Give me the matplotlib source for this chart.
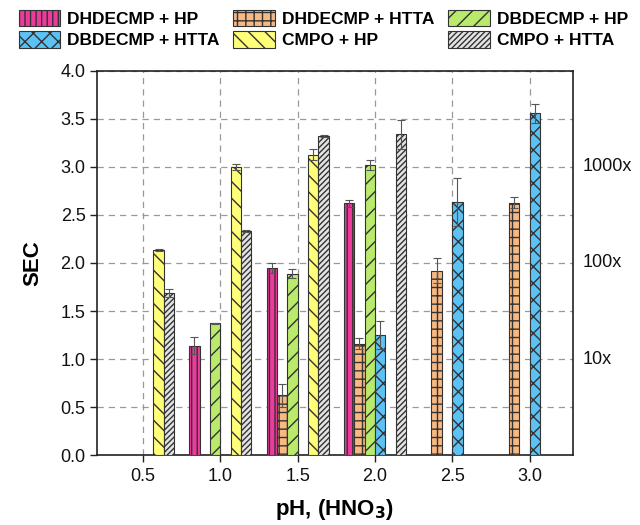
import matplotlib
matplotlib.use("Agg")
import matplotlib.pyplot as plt
import numpy as np

plt.rcParams['font.family'] = ['Liberation Sans', 'DejaVu Sans']
plt.rcParams['hatch.linewidth'] = 1.0
plt.rcParams['hatch.color'] = '#222222'

ph = [0.5, 1.0, 1.5, 2.0, 2.5, 3.0]
series_names = ["DHDECMP + HP", "DHDECMP + HTTA", "DBDECMP + HP",
                "DBDECMP + HTTA", "CMPO + HP", "CMPO + HTTA"]
nan = np.nan
dhdecmp_hp = [nan, 1.14, 1.95, 2.62, nan, nan]
dhdecmp_hp_err = [0, 0.09, 0.05, 0.04, 0, 0]
dhdecmp_htta = [nan, nan, 0.62, 1.16, 1.92, 2.63]
dhdecmp_htta_err = [0, 0, 0.12, 0.06, 0.13, 0.06]
dbdecmp_hp = [nan, 1.37, 1.89, 3.02, nan, nan]
dbdecmp_hp_err = [0, 0.01, 0.05, 0.05, 0, 0]
dbdecmp_htta = [nan, nan, nan, 1.25, 2.64, 3.56]
dbdecmp_htta_err = [0, 0, 0, 0.15, 0.25, 0.10]
cmpo_hp = [2.14, 3.00, 3.13, nan, nan, nan]
cmpo_hp_err = [0.01, 0.03, 0.06, 0, 0, 0]
cmpo_htta = [1.69, 2.33, 3.32, 3.34, nan, nan]
cmpo_htta_err = [0.04, 0.01, 0.01, 0.15, 0, 0]
right_labels = ["10x", "100x", "1000x"]
right_pos = [1.0, 2.0, 3.0]

values = [dhdecmp_hp, dhdecmp_htta, dbdecmp_hp, dbdecmp_htta, cmpo_hp, cmpo_htta]
errors = [dhdecmp_hp_err, dhdecmp_htta_err, dbdecmp_hp_err, dbdecmp_htta_err,
          cmpo_hp_err, cmpo_htta_err]
colors = ['#EE3A9C', '#F8B882', '#B9EA6C', '#5CC2F4', '#FFFF78', '#E4E4E4']
hatches = ['|||', '++', '//', 'xx', '\\\\', '//////']

fig = plt.figure(figsize=(6.4, 5.25), dpi=100)
ax = fig.add_axes([0.151, 0.1333, 0.744, 0.7315])

w = 0.067
x = np.array(ph)
handles = []
for i, (vals, errs) in enumerate(zip(values, errors)):
    pos = x + (i - 2.5) * w
    v = np.array(vals, dtype=float)
    e = np.array(errs, dtype=float)
    mask = ~np.isnan(v)
    b = ax.bar(pos[mask], v[mask], width=w, color=colors[i], hatch=hatches[i],
               edgecolor='#333333', linewidth=0.8, label=series_names[i], zorder=3)
    ax.errorbar(pos[mask], v[mask], yerr=e[mask], fmt='none', ecolor='#555555',
                elinewidth=0.8, capsize=3, capthick=0.8, zorder=4)
    handles.append(b)

ax.set_xlim(0.2, 3.28)
ax.set_ylim(0, 4.0)
ax.set_xticks(ph)
ax.set_xticklabels([f"{p:.1f}" for p in ph])
ax.set_yticks(np.arange(0, 4.01, 0.5))
ax.set_yticklabels([f"{t:.1f}" for t in np.arange(0, 4.01, 0.5)])
ax.tick_params(axis='both', labelsize=13, direction='out', length=5, width=1,
               colors='#222222', labelcolor='#111111')
ax.tick_params(axis='x', pad=4)
ax.tick_params(axis='y', pad=3)
ax.grid(True, linestyle=(0, (5, 4)), color='#999999', linewidth=0.9, zorder=0)
ax.set_axisbelow(True)
for s in ax.spines.values():
    s.set_linewidth(1.2)
    s.set_color('#222222')

ax.set_xlabel(r"pH, (HNO$_\mathbf{3}$)", fontsize=16, fontweight='bold', labelpad=9)
ax.set_ylabel("SEC", fontsize=16, fontweight='bold', labelpad=12)

for lab, p in zip(right_labels, right_pos):
    ax.annotate(lab, xy=(1.0, p), xycoords=('axes fraction', 'data'),
                xytext=(7, 0), textcoords='offset points', ha='left', va='center',
                fontsize=13, color='#111111')

order = [0, 3, 1, 4, 2, 5]
leg = fig.legend([handles[k] for k in order], [series_names[k] for k in order],
                 ncol=3, loc='upper left', bbox_to_anchor=(0.01, 1.005), frameon=False,
                 prop={'weight': 'bold', 'size': 12.5}, handlelength=2.4,
                 handleheight=1.1, columnspacing=0.8, handletextpad=0.4,
                 labelspacing=0.25, borderaxespad=0.3)

fig.savefig("out.png", dpi=100)
